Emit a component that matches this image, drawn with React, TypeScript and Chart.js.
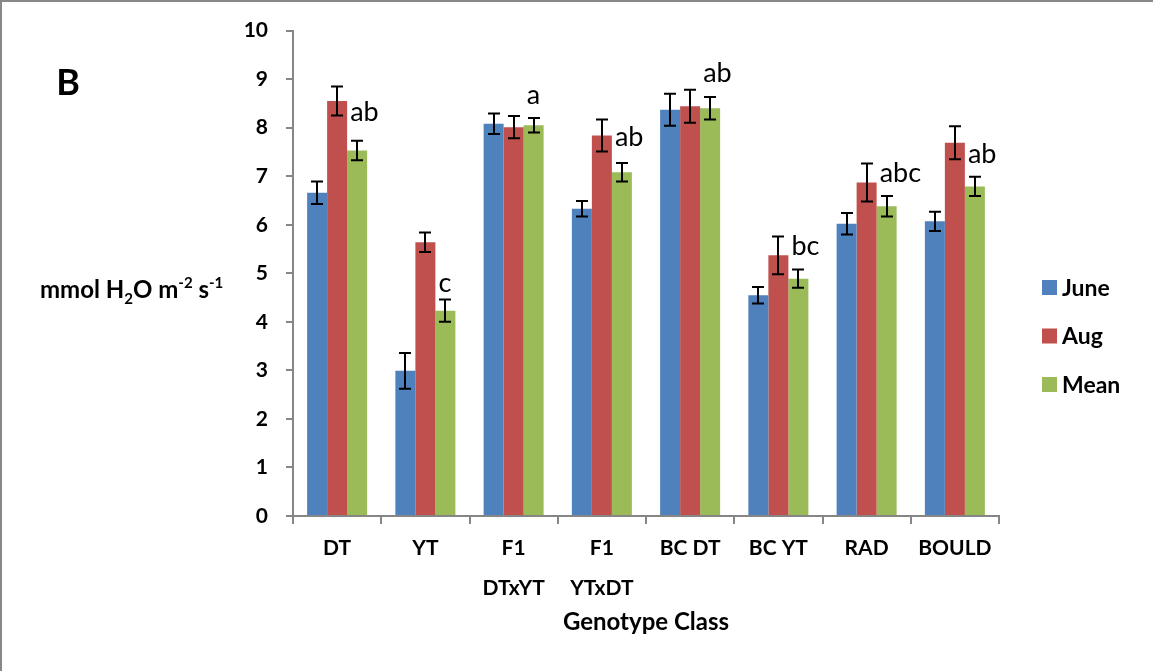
import React, { useEffect, useRef } from "react";
import { Chart, registerables } from "chart.js";

Chart.register(...registerables);

const FONT = "Lato, 'Noto Sans', sans-serif";

const categories = [["DT"], ["YT"], ["F1", "DTxYT"], ["F1", "YTxDT"], ["BC DT"], ["BC YT"], ["RAD"], ["BOULD"]];
const seriesNames = ["June", "Aug", "Mean"];
const seriesColors = ["#4F81BD", "#C0504D", "#9BBB59"];
const juneValues = [6.66, 2.99, 8.08, 6.33, 8.37, 4.55, 6.02, 6.07];
const augValues = [8.55, 5.64, 8.01, 7.84, 8.44, 5.37, 6.87, 7.69];
const meanValues = [7.53, 4.23, 8.05, 7.08, 8.40, 4.89, 6.38, 6.79];
const juneErrors = [0.23, 0.37, 0.21, 0.16, 0.33, 0.17, 0.22, 0.20];
const augErrors = [0.30, 0.20, 0.23, 0.33, 0.34, 0.39, 0.39, 0.34];
const meanErrors = [0.20, 0.23, 0.15, 0.19, 0.23, 0.19, 0.21, 0.20];
const groupLetters = ["ab", "c", "a", "ab", "ab", "bc", "abc", "ab"];
const letterLevels = [8.32, 4.79, 8.66, 7.80, 9.12, 5.56, 7.05, 7.46];
const yMin = 0;
const yMax = 10;
const yStep = 1;
const xTitle = "Genotype Class";
const panelLabel = "B";

const allErrors = [juneErrors, augErrors, meanErrors];

const annotPlugin = {
  id: "annot",
  afterDatasetsDraw(chart: any) {
    const ctx = chart.ctx;
    const ys = chart.scales.y;
    ctx.save();
    ctx.strokeStyle = "#000";
    ctx.lineWidth = 2;
    chart.data.datasets.forEach((ds: any, i: number) => {
      const meta = chart.getDatasetMeta(i);
      meta.data.forEach((bar: any, j: number) => {
        const v = ds.data[j];
        const e = allErrors[i][j];
        const x = Math.round(bar.x);
        const yt = ys.getPixelForValue(v + e);
        const yb = ys.getPixelForValue(v - e);
        ctx.beginPath();
        ctx.moveTo(x, yt);
        ctx.lineTo(x, yb);
        ctx.moveTo(x - 6, yt);
        ctx.lineTo(x + 6, yt);
        ctx.moveTo(x - 6, yb);
        ctx.lineTo(x + 6, yb);
        ctx.stroke();
      });
    });
    // significance letters
    const meanMeta = chart.getDatasetMeta(2);
    ctx.fillStyle = "#000";
    ctx.font = `27px ${FONT}`;
    ctx.textAlign = "left";
    ctx.textBaseline = "middle";
    meanMeta.data.forEach((bar: any, j: number) => {
      ctx.fillText(groupLetters[j], bar.x - bar.width / 2 + 3, ys.getPixelForValue(letterLevels[j]));
    });
    ctx.restore();
  },
  afterDraw(chart: any) {
    const ctx = chart.ctx;
    ctx.save();
    // outer frame (top and left)
    ctx.fillStyle = "#888888";
    ctx.fillRect(0, 0, chart.width, 2);
    ctx.fillRect(0, 0, 2, chart.height);

    ctx.fillStyle = "#000";
    // panel label
    ctx.font = `bold 36px ${FONT}`;
    ctx.textAlign = "center";
    ctx.textBaseline = "middle";
    ctx.fillText(panelLabel, 68, 83);

    // y axis title with sub/superscripts
    const base = 298;
    let x = 40;
    ctx.textAlign = "left";
    ctx.textBaseline = "alphabetic";
    const parts: [string, string][] = [
      ["n", "mmol H"],
      ["sub", "2"],
      ["n", "O m"],
      ["sup", "-2"],
      ["n", " s"],
      ["sup", "-1"],
    ];
    parts.forEach(([kind, t]) => {
      if (kind === "n") {
        ctx.font = `bold 24px ${FONT}`;
        ctx.fillText(t, x, base);
      } else {
        ctx.font = `bold 15px ${FONT}`;
        ctx.fillText(t, x, kind === "sub" ? base + 6 : base - 10);
      }
      x += ctx.measureText(t).width;
    });

    // legend
    const ca = chart.chartArea;
    const mid = chart.height / 2;
    ctx.font = `bold 23px ${FONT}`;
    ctx.textBaseline = "middle";
    seriesNames.forEach((name, i) => {
      const cy = mid - 48 + i * 48.5;
      ctx.fillStyle = seriesColors[i];
      ctx.fillRect(ca.right + 43, cy - 7.5, 15, 15);
      ctx.fillStyle = "#000";
      ctx.fillText(name, ca.right + 63, cy + 1);
    });
    ctx.restore();
  },
};

export default function App() {
  const ref = useRef<HTMLCanvasElement | null>(null);
  useEffect(() => {
    document.body.style.margin = "0";
    const canvas = ref.current;
    if (!canvas) return;
    const chart = new Chart(canvas, {
      type: "bar",
      data: {
        labels: categories as any,
        datasets: [juneValues, augValues, meanValues].map((d, i) => ({
          label: seriesNames[i],
          data: d,
          backgroundColor: seriesColors[i],
          borderWidth: 0,
          categoryPercentage: 0.68,
          barPercentage: 1.0,
        })),
      },
      options: {
        responsive: false,
        animation: false,
        devicePixelRatio: 1,
        layout: { padding: { left: 0, top: 30, right: 154, bottom: 34 } },
        plugins: { legend: { display: false }, tooltip: { enabled: false } },
        scales: {
          x: {
            grid: {
              display: true,
              drawOnChartArea: false,
              drawTicks: true,
              tickLength: 8,
              color: "#868686",
              lineWidth: 2,
              offset: true,
            },
            border: { display: true, color: "#868686", width: 2 },
            ticks: {
              color: "#000",
              font: { family: FONT, size: 21, weight: "bold", lineHeight: 1.9 },
              padding: 4,
              maxRotation: 0,
              autoSkip: false,
            },
            title: {
              display: true,
              text: xTitle,
              color: "#000",
              font: { family: FONT, size: 24, weight: "bold" },
              padding: 0,
            },
            afterFit: (s: any) => {
              s.height = 121;
            },
          },
          y: {
            min: yMin,
            max: yMax,
            ticks: {
              stepSize: yStep,
              color: "#000",
              font: { family: FONT, size: 21, weight: "bold" },
              padding: 18,
            },
            grid: {
              drawOnChartArea: false,
              drawTicks: true,
              tickLength: 7,
              color: "#868686",
              lineWidth: 2,
            },
            border: { display: true, color: "#868686", width: 2 },
            afterFit: (s: any) => {
              s.width = 293;
            },
          },
        },
      },
      plugins: [annotPlugin],
    } as any);
    return () => chart.destroy();
  }, []);
  return (
    <div style={{ width: 1153, height: 671, background: "#fff" }}>
      <canvas ref={ref} width={1153} height={671} style={{ display: "block" }} />
    </div>
  );
}
